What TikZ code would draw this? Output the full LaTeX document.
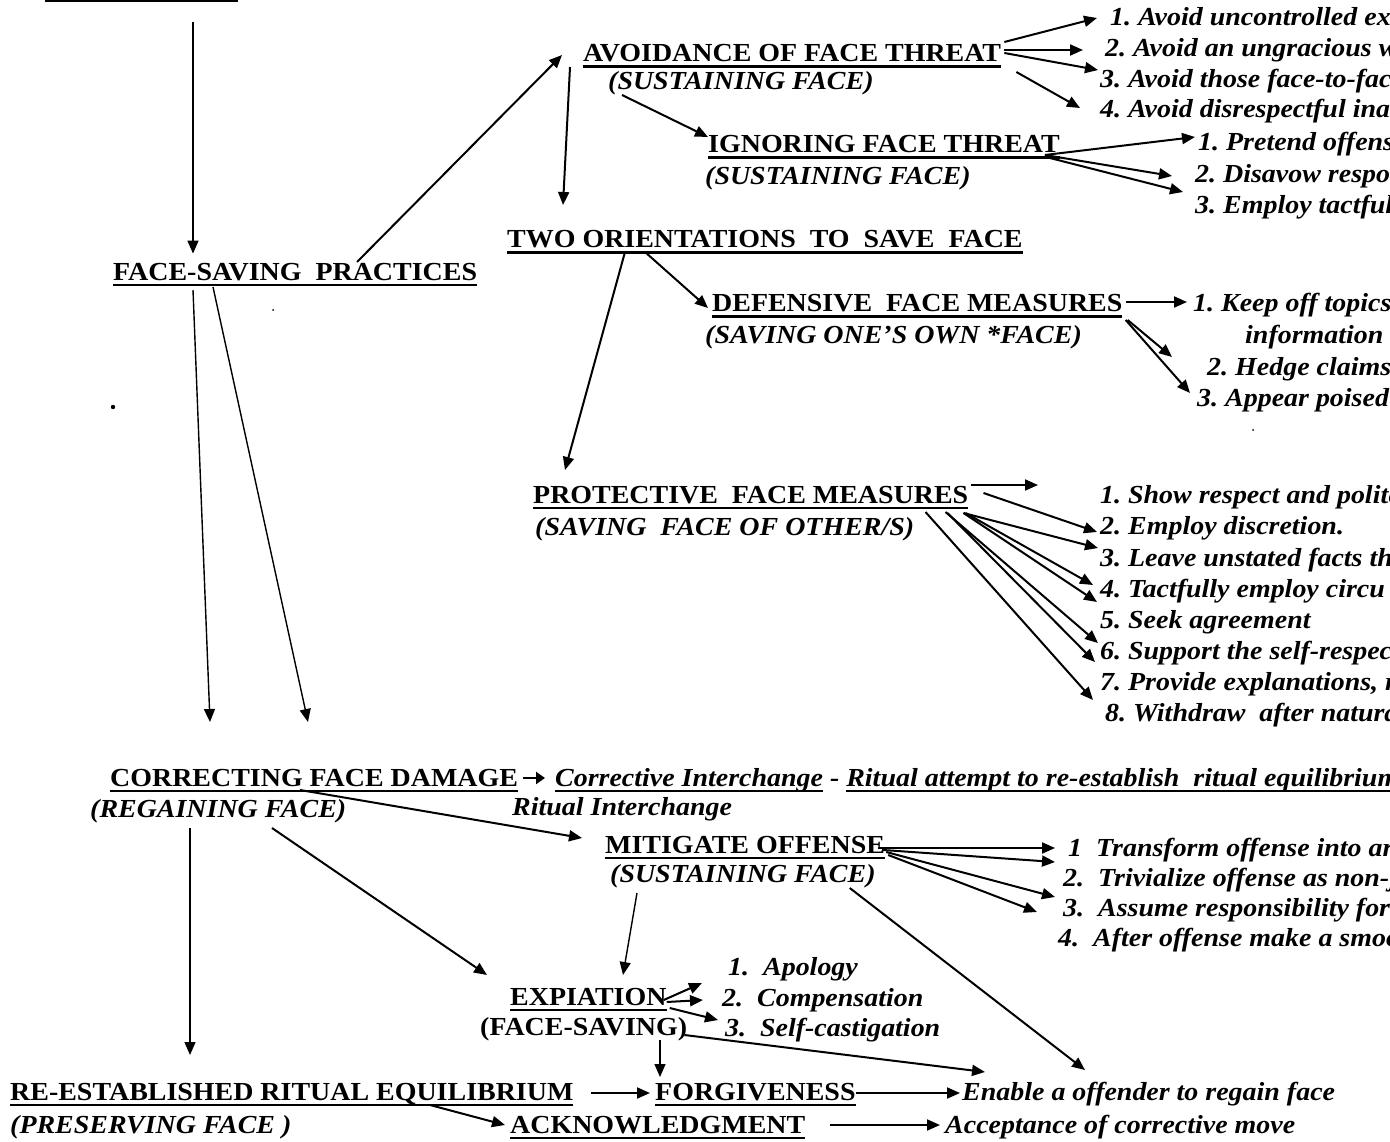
\documentclass[tikz,border=0pt]{standalone}
\usepackage{fontspec}
\setmainfont{Liberation Serif}[FakeStretch=1.075]
\usetikzlibrary{arrows.meta,positioning}
\frenchspacing
\newcommand{\hdline}[1]{\setbox0=\hbox{#1}\rlap{\vrule width\wd0 height -3.5pt depth 6pt}\box0\relax}
\tikzstyle{arrow} = [line width=2pt, -{Triangle[length=13pt,width=11pt]}]
\tikzstyle{thinarrow} = [arrow, line width=1.4pt]
\tikzstyle{heading} = [anchor=base west, inner sep=0pt, font=\fontsize{26}{30}\selectfont\bfseries]
\tikzstyle{subhead} = [heading, font=\fontsize{26}{30}\selectfont\bfseries\itshape]
\tikzstyle{listitem} = [subhead]

\begin{document}
\begin{tikzpicture}[x=1pt, y=-1pt]
\useasboundingbox (0,0) rectangle (1390,1142);
\clip (0,0) rectangle (1390,1142);

% Headings
\draw[line width=3pt] (45,1) -- (238,1);
\coordinate (topstem) at (193,22);
\node[heading] (fsp) at (113,280) {\hdline{FACE-SAVING\ \ PRACTICES}};
\node[heading] (avoid) at (583,62) {\hdline{AVOIDANCE OF FACE THREAT}};
\node[subhead] (avoidsub) at (608,90) {(SUSTAINING FACE)};
\node[heading] (ignore) at (708,153) {\hdline{IGNORING FACE THREAT}};
\node[subhead] (ignoresub) at (705,185) {(SUSTAINING FACE)};
\node[heading] (two) at (507,248) {\hdline{TWO ORIENTATIONS\ \ TO\ \ SAVE\ \ FACE}};
\node[heading] (def) at (712,312) {\hdline{DEFENSIVE\ \ FACE MEASURES}};
\node[subhead] (defsub) at (705,343) {(SAVING ONE'S OWN *FACE)};
\node[heading] (prot) at (533,503) {\hdline{PROTECTIVE\ \ FACE MEASURES}};
\node[subhead] (protsub) at (535,535) {(SAVING\ \ FACE OF OTHER/S)};
\node[heading] (cfd) at (110,786) {\hdline{CORRECTING FACE DAMAGE}};
\node[subhead] (cfdsub) at (90,817) {(REGAINING FACE)};
\node[subhead] (corr) at (555,786) {\hdline{Corrective Interchange} - \hdline{Ritual attempt to re-establish\ \ ritual equilibrium}};
\node[subhead] (ritual) at (512,815) {Ritual Interchange};
\node[heading] (mit) at (605,853) {\hdline{MITIGATE OFFENSE}};
\node[subhead] (mitsub) at (610,882) {(SUSTAINING FACE)};
\node[heading] (exp) at (510,1005) {\hdline{EXPIATION}};
\node[heading] (expsub) at (480,1035) {(FACE-SAVING)};
\node[heading] (reest) at (10,1100) {\hdline{RE-ESTABLISHED RITUAL EQUILIBRIUM}};
\node[subhead] (reestsub) at (10,1133) {(PRESERVING FACE )};
\node[heading] (forg) at (655,1100) {\hdline{FORGIVENESS}};
\node[heading] (ack) at (510,1133) {\hdline{ACKNOWLEDGMENT}};
\node[subhead] (enable) at (962,1100) {Enable a offender to regain face};
\node[subhead] (accept) at (945,1133) {Acceptance of corrective move};

% Lists
\node[listitem] (av1) at (1110,26) {1. Avoid uncontrolled ex};
\node[listitem] (av2) at (1105,57) {2. Avoid an ungracious w};
\node[listitem] (av3) at (1100,88) {3. Avoid those face-to-fac};
\node[listitem] (av4) at (1100,118) {4. Avoid disrespectful ina};
\node[listitem] (ig1) at (1198,151) {1. Pretend offens};
\node[listitem] (ig2) at (1195,183) {2. Disavow respo};
\node[listitem] (ig3) at (1195,214) {3. Employ tactful};
\node[listitem] (df1) at (1193,311) {1. Keep off topics};
\node[listitem] (df1b) at (1245,343) {information th};
\node[listitem] (df2) at (1207,375) {2. Hedge claims};
\node[listitem] (df3) at (1197,406) {3. Appear poised};
\node[listitem] (pr1) at (1100,503) {1. Show respect and polite};
\node[listitem] (pr2) at (1100,534) {2. Employ discretion.};
\node[listitem] (pr3) at (1100,566) {3. Leave unstated facts th};
\node[listitem] (pr4) at (1100,597) {4. Tactfully employ circu};
\node[listitem] (pr5) at (1100,628) {5. Seek agreement};
\node[listitem] (pr6) at (1100,659) {6. Support the self-respect};
\node[listitem] (pr7) at (1100,690) {7. Provide explanations, r};
\node[listitem] (pr8) at (1105,721) {8. Withdraw\ \ after natura};
\node[listitem] (mt1) at (1068,856) {1\ \ Transform offense into ar};
\node[listitem] (mt2) at (1063,886) {2.\ \ Trivialize offense as non-j};
\node[listitem] (mt3) at (1063,916) {3.\ \ Assume responsibility for};
\node[listitem] (mt4) at (1058,946) {4.\ \ After offense make a smoo};
\node[listitem] (ex1) at (728,975) {1.\ \ Apology};
\node[listitem] (ex2) at (722,1006) {2.\ \ Compensation};
\node[listitem] (ex3) at (725,1036) {3.\ \ Self-castigation};

% specks
\fill (113,407) circle (2.2pt);
\fill (273,310) circle (1pt);
\fill (1253,430) circle (1pt);

% Connections
\draw[thinarrow, shorten >=9pt] (topstem) -- (topstem |- fsp.north);
\draw[arrow] ([shift={(244pt,18pt)}]fsp.base west) -- ([shift={(-21pt,7pt)}]avoid.base west);
\draw[arrow] ([shift={(-13pt,-5pt)}]avoid.base west) -- ([shift={(56pt,43pt)}]two.base west);
\draw[arrow] ([shift={(3pt,20pt)}]avoid.base east) -- ([shift={(-13pt,8pt)}]av1.base west);
\draw[arrow] ([shift={(3pt,12pt)}]avoid.base east) -- ([shift={(-22pt,7pt)}]av2.base west);
\draw[arrow] ([shift={(3pt,9pt)}]avoid.base east) -- ([shift={(-2pt,18pt)}]av3.base west);
\draw[arrow] ([shift={(15pt,-10pt)}]avoid.base east) -- ([shift={(-20pt,10pt)}]av4.base west);
\draw[arrow] ([shift={(14pt,-5pt)}]avoidsub.base west) -- ([shift={(0pt,16pt)}]ignore.base west);
\draw[arrow] ([shift={(-15pt,-2pt)}]ignore.base east) -- ([shift={(-3pt,14pt)}]ig1.base west);
\draw[arrow] ([shift={(-15pt,-2pt)}]ignore.base east) -- ([shift={(-23pt,7pt)}]ig2.base west);
\draw[arrow] ([shift={(-10pt,-5pt)}]ignore.base east) -- ([shift={(-12pt,22pt)}]ig3.base west);
\draw[arrow] ([shift={(138pt,-4pt)}]two.base west) -- ([shift={(-4pt,4pt)}]def.base west);
\draw[arrow] ([shift={(118pt,-4pt)}]two.base west) -- ([shift={(32pt,33pt)}]prot.base west);
\draw[arrow] ([shift={(3pt,10pt)}]def.base east) -- ([shift={(-6pt,9pt)}]df1.base west);
\draw[arrow] ([shift={(5pt,-8pt)}]def.base east) -- ([shift={(-35pt,18pt)}]df2.base west);
\draw[arrow] ([shift={(3pt,-8pt)}]def.base east) -- ([shift={(-7pt,13pt)}]df3.base west);
\draw[arrow] ([shift={(2pt,18pt)}]prot.base east) -- ([shift={(-62pt,18pt)}]pr1.base west);
\draw[arrow] ([shift={(15pt,10pt)}]prot.base east) -- ([shift={(-3pt,2pt)}]pr2.base west);
\draw[arrow] ([shift={(-5pt,-10pt)}]prot.base east) -- ([shift={(-2pt,18pt)}]pr3.base west);
\draw[arrow] ([shift={(-3pt,-10pt)}]prot.base east) -- ([shift={(-7pt,12pt)}]pr4.base west);
\draw[arrow] ([shift={(-5pt,-10pt)}]prot.base east) -- ([shift={(-3pt,26pt)}]pr5.base west);
\draw[arrow] ([shift={(-23pt,-9pt)}]prot.base east) -- ([shift={(-2pt,16pt)}]pr6.base west);
\draw[arrow] ([shift={(-21pt,-10pt)}]prot.base east) -- ([shift={(-5pt,28pt)}]pr7.base west);
\draw[arrow] ([shift={(-43pt,-9pt)}]prot.base east) -- ([shift={(-12pt,21pt)}]pr8.base west);
\draw[thinarrow] ([shift={(80pt,-10pt)}]fsp.base west) -- ([shift={(100pt,64pt)}]cfd.base west);
\draw[thinarrow] ([shift={(100pt,-7pt)}]fsp.base west) -- ([shift={(198pt,64pt)}]cfd.base west);
\draw[arrow, line width=2.6pt, -{Triangle[length=9pt,width=12pt]}] ([shift={(5pt,8pt)}]cfd.base east) -- ([shift={(-10pt,8pt)}]corr.base west);
\draw[arrow] ([shift={(190pt,-4pt)}]cfd.base west) -- ([shift={(-23pt,15pt)}]mit.base west);
\draw[arrow] ([shift={(182pt,-11pt)}]cfdsub.base west) -- ([shift={(-23pt,30pt)}]exp.base west);
\draw[thinarrow] ([shift={(100pt,-11pt)}]cfdsub.base west) -- ([shift={(180pt,45pt)}]reest.base west);
\draw[arrow] ([shift={(-7pt,5pt)}]mit.base east) -- ([shift={(-13pt,8pt)}]mt1.base west);
\draw[arrow] ([shift={(-2pt,3pt)}]mit.base east) -- ([shift={(-8pt,24pt)}]mt2.base west);
\draw[arrow] ([shift={(1pt,1pt)}]mit.base east) -- ([shift={(-8pt,19pt)}]mt3.base west);
\draw[arrow] ([shift={(3pt,-2pt)}]mit.base east) -- ([shift={(-21pt,34pt)}]mt4.base west);
\draw[thinarrow] ([shift={(27pt,-11pt)}]mitsub.base west) -- ([shift={(113pt,30pt)}]exp.base west);
\draw[arrow] ([shift={(-26pt,-6pt)}]mitsub.base east) -- ([shift={(123pt,30pt)}]enable.base west);
\draw[arrow] ([shift={(-3pt,5pt)}]exp.base east) -- ([shift={(-26pt,-8pt)}]ex1.base west);
\draw[arrow] ([shift={(0pt,3pt)}]exp.base east) -- ([shift={(-19pt,6pt)}]ex2.base west);
\draw[arrow] ([shift={(3pt,-3pt)}]exp.base east) -- ([shift={(-7pt,16pt)}]ex3.base west);
\draw[arrow] ([shift={(-3pt,0pt)}]expsub.base east) -- ([shift={(23pt,28pt)}]enable.base west);
\draw[thinarrow] ([shift={(180pt,-5pt)}]expsub.base west) -- ([shift={(5pt,23pt)}]forg.base west);
\draw[arrow] ([shift={(17pt,7pt)}]reest.base east) -- ([shift={(-5pt,7pt)}]forg.base west);
\draw[arrow] ([shift={(420pt,-5pt)}]reest.base west) -- ([shift={(-5pt,8pt)}]ack.base west);
\draw[arrow] ([shift={(0pt,7pt)}]forg.base east) -- ([shift={(-2pt,7pt)}]enable.base west);
\draw[arrow] ([shift={(25pt,8pt)}]ack.base east) -- ([shift={(-5pt,8pt)}]accept.base west);
\end{tikzpicture}
\end{document}
